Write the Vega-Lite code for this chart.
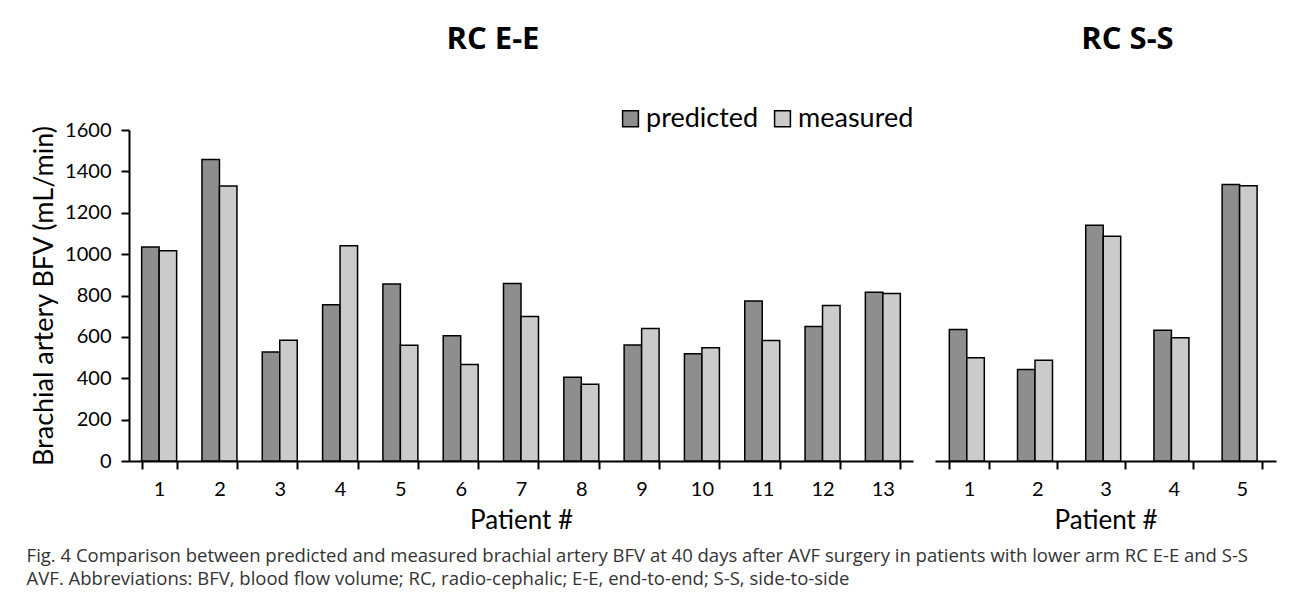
{
  "$schema": "https://vega.github.io/schema/vega-lite/v6.json",
  "background": "white",
  "padding": {"left": 26, "top": 24, "right": 15, "bottom": 10},
  "datasets": {
    "d": [
      {"group": "EE", "patient": 1, "type": "predicted", "value": 1034},
      {"group": "EE", "patient": 1, "type": "measured", "value": 1016},
      {"group": "EE", "patient": 2, "type": "predicted", "value": 1458},
      {"group": "EE", "patient": 2, "type": "measured", "value": 1329},
      {"group": "EE", "patient": 3, "type": "predicted", "value": 527},
      {"group": "EE", "patient": 3, "type": "measured", "value": 584},
      {"group": "EE", "patient": 4, "type": "predicted", "value": 755},
      {"group": "EE", "patient": 4, "type": "measured", "value": 1040},
      {"group": "EE", "patient": 5, "type": "predicted", "value": 855},
      {"group": "EE", "patient": 5, "type": "measured", "value": 560},
      {"group": "EE", "patient": 6, "type": "predicted", "value": 605},
      {"group": "EE", "patient": 6, "type": "measured", "value": 466},
      {"group": "EE", "patient": 7, "type": "predicted", "value": 858},
      {"group": "EE", "patient": 7, "type": "measured", "value": 698},
      {"group": "EE", "patient": 8, "type": "predicted", "value": 405},
      {"group": "EE", "patient": 8, "type": "measured", "value": 371},
      {"group": "EE", "patient": 9, "type": "predicted", "value": 561},
      {"group": "EE", "patient": 9, "type": "measured", "value": 640},
      {"group": "EE", "patient": 10, "type": "predicted", "value": 519},
      {"group": "EE", "patient": 10, "type": "measured", "value": 548},
      {"group": "EE", "patient": 11, "type": "predicted", "value": 774},
      {"group": "EE", "patient": 11, "type": "measured", "value": 582},
      {"group": "EE", "patient": 12, "type": "predicted", "value": 650},
      {"group": "EE", "patient": 12, "type": "measured", "value": 752},
      {"group": "EE", "patient": 13, "type": "predicted", "value": 816},
      {"group": "EE", "patient": 13, "type": "measured", "value": 810},
      {"group": "SS", "patient": 1, "type": "predicted", "value": 636},
      {"group": "SS", "patient": 1, "type": "measured", "value": 499},
      {"group": "SS", "patient": 2, "type": "predicted", "value": 442},
      {"group": "SS", "patient": 2, "type": "measured", "value": 487},
      {"group": "SS", "patient": 3, "type": "predicted", "value": 1139},
      {"group": "SS", "patient": 3, "type": "measured", "value": 1086},
      {"group": "SS", "patient": 4, "type": "predicted", "value": 632},
      {"group": "SS", "patient": 4, "type": "measured", "value": 596},
      {"group": "SS", "patient": 5, "type": "predicted", "value": 1336},
      {"group": "SS", "patient": 5, "type": "measured", "value": 1330}
    ]
  },
  "title": {
    "text": [
      "Fig. 4 Comparison between predicted and measured brachial artery BFV at 40 days after AVF surgery in patients with lower arm RC E-E and S-S",
      "AVF. Abbreviations: BFV, blood flow volume; RC, radio-cephalic; E-E, end-to-end; S-S, side-to-side"
    ],
    "orient": "bottom",
    "anchor": "start",
    "frame": "bounds",
    "font": "Open Sans",
    "fontSize": 18.5,
    "fontWeight": "normal",
    "color": "#333333",
    "lineHeight": 23,
    "offset": 14,
    "dx": -4
  },
  "spacing": 22,
  "bounds": "flush",
  "resolve": {"scale": {"color": "shared"}, "legend": {"color": "independent"}},
  "hconcat": [
    {
      "width": 784,
      "height": 331,
      "data": {"name": "d"},
      "transform": [{"filter": "datum.group == 'EE'"}],
      "title": {"text": "RC E-E", "fontSize": 31, "font": "Open Sans", "fontWeight": "bold", "offset": 49, "dx": -28, "color": "black"},
      "mark": {"type": "bar", "stroke": "black", "strokeWidth": 1.5},
      "encoding": {
        "x": {
          "field": "patient", "type": "ordinal",
          "scale": {"paddingInner": 0.42, "paddingOuter": 0.21},
          "axis": {"title": "Patient #", "labelAngle": 0, "tickBand": "extent"}
        },
        "xOffset": {"field": "type", "sort": ["predicted", "measured"]},
        "y": {
          "field": "value", "type": "quantitative",
          "scale": {"domain": [0, 1600]},
          "axis": {"values": [0, 200, 400, 600, 800, 1000, 1200, 1400, 1600], "format": "d", "title": "Brachial artery BFV (mL/min)", "titleFontSize": 27, "domain": true, "grid": false}
        },
        "color": {
          "field": "type", "type": "nominal", "sort": ["predicted", "measured"],
          "scale": {"domain": ["predicted", "measured"], "range": ["#8e8e8e", "#cbcbcb"]},
          "legend": {"orient": "none", "legendX": 488, "legendY": -25, "direction": "horizontal", "title": null}
        }
      }
    },
    {
      "width": 341,
      "height": 331,
      "data": {"name": "d"},
      "transform": [{"filter": "datum.group == 'SS'"}],
      "title": {"text": "RC S-S", "fontSize": 31, "font": "Open Sans", "fontWeight": "bold", "offset": 74, "dx": 22, "color": "black"},
      "mark": {"type": "bar", "stroke": "black", "strokeWidth": 1.5},
      "encoding": {
        "x": {
          "field": "patient", "type": "ordinal",
          "scale": {"paddingInner": 0.42, "paddingOuter": 0.21},
          "axis": {"title": "Patient #", "labelAngle": 0, "tickBand": "extent"}
        },
        "xOffset": {"field": "type", "sort": ["predicted", "measured"]},
        "y": {
          "field": "value", "type": "quantitative",
          "scale": {"domain": [0, 1600]},
          "axis": null
        },
        "color": {
          "field": "type", "type": "nominal", "sort": ["predicted", "measured"],
          "scale": {"domain": ["predicted", "measured"], "range": ["#8e8e8e", "#cbcbcb"]},
          "legend": null
        }
      }
    }
  ],
  "config": {
    "view": {"stroke": null},
    "font": "Lato",
    "axis": {
      "domainColor": "black",
      "domainWidth": 2,
      "tickColor": "black",
      "tickWidth": 2,
      "tickSize": 8,
      "labelColor": "black",
      "labelFont": "Lato",
      "labelFontSize": 20,
      "titleColor": "black",
      "titleFont": "Lato",
      "titleFontSize": 26,
      "titleFontWeight": "normal",
      "grid": false
    },
    "axisX": {"labelPadding": 10, "titlePadding": 8},
    "axisY": {"labelPadding": 10, "titlePadding": 6},
    "legend": {
      "symbolType": "square",
      "symbolSize": 250,
      "symbolStrokeColor": "black",
      "symbolStrokeWidth": 1.5,
      "labelFontSize": 27,
      "labelFont": "Lato",
      "labelColor": "black",
      "labelOffset": 2,
      "columnPadding": 10
    }
  }
}
